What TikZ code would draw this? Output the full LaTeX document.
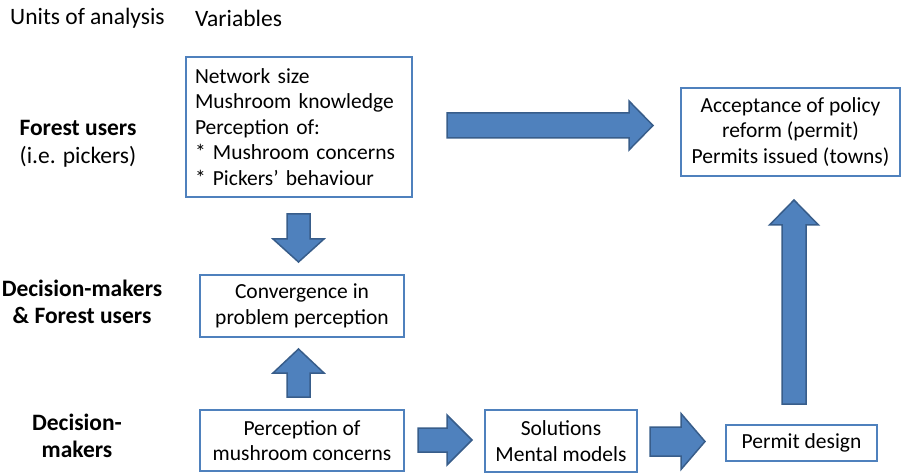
\documentclass[tikz,border=0pt]{standalone}
\usepackage{fontspec}
\setmainfont{Carlito}
\usetikzlibrary{calc}
\definecolor{boxblue}{RGB}{79,129,189}
\definecolor{arrowblue}{RGB}{79,129,189}
\definecolor{arrowedge}{RGB}{56,93,138}
\tikzset{
    varbox/.style 2 args={
        draw=boxblue,
        line width=2pt,
        minimum width=#1,
        minimum height=#2,
        inner sep=0pt,
        align=center
    },
    unitlabel/.style={
        inner sep=0pt,
        align=center,
        font=\fontsize{23.5}{27.5}\selectfont\bfseries
    },
    heading/.style={
        anchor=west,
        inner sep=0pt,
        font=\fontsize{23.5}{27.5}\selectfont
    },
    fatarrow/.style={
        fill=arrowblue,
        draw=arrowedge,
        line width=1.5pt,
        line join=miter
    }
}
% block arrow: tail, tip, half shaft, half head, head length
\newcommand{\fatarrow}[5]{%
    \coordinate (fa-b) at ($(#2)!#5!(#1)$);
    \filldraw[fatarrow]
        ($(#1)!#3!90:(#2)$) -- ($(fa-b)!#3!90:(#2)$) -- ($(fa-b)!#4!90:(#2)$)
        -- (#2)
        -- ($(fa-b)!#4!-90:(#2)$) -- ($(fa-b)!#3!-90:(#2)$) -- ($(#1)!#3!-90:(#2)$)
        -- cycle;
}

\begin{document}
\begin{tikzpicture}[x=1pt, y=-1pt, font=\fontsize{21.5}{25.5}\selectfont]
    \useasboundingbox (0,0) rectangle (903,473);

    % headings
    \node[heading] (units) at (10,18) {Units of analysis};
    \node[heading] (vartitle) at (195,18) {Variables};

    % units of analysis
    \node[unitlabel] (forest) at (78,144) {Forest users\\\mdseries(i.e. pickers)};
    \node[unitlabel] (both) at (82,302) {Decision-makers\\\& Forest users};
    \node[unitlabel] (dm) at (77,436) {Decision-\\makers};

    % boxes
    \node[varbox={226pt}{140pt}, text width=208pt, align=left] (vars) at (299,127)
        {Network size\\Mushroom knowledge\\Perception of:\\{}* Mushroom concerns\\{}* Pickers’ behaviour};
    \node[varbox={219pt}{88pt}] (accept) at (790.5,132)
        {Acceptance of policy\\reform (permit)\\Permits issued (towns)};
    \node[varbox={204pt}{62pt}] (conv) at (302,306) {Convergence in\\problem perception};
    \node[varbox={204pt}{61pt}] (percep) at (302,440.5) {Perception of\\mushroom concerns};
    \node[varbox={152pt}{62pt}] (sol) at (561,441) {Solutions\\Mental models};
    \node[varbox={151pt}{36pt}] (permit) at (801.5,443) {Permit design};

    % arrow ends
    \coordinate (a1t) at (447,125.5);  \coordinate (a1h) at (653,125.5);
    \coordinate (a2t) at (298.5,214);  \coordinate (a2h) at (298.5,262);
    \coordinate (a3t) at (298.5,397);  \coordinate (a3h) at (298.5,349);
    \coordinate (a4t) at (418,440);    \coordinate (a4h) at (472,440);
    \coordinate (a5t) at (650,441.5);  \coordinate (a5h) at (705,441.5);
    \coordinate (a6t) at (794,404);    \coordinate (a6h) at (794,200);

    % block arrows
    \fatarrow{a1t}{a1h}{12.5pt}{24.5pt}{24pt}
    \fatarrow{a2t}{a2h}{11.5pt}{25.5pt}{23pt}
    \fatarrow{a3t}{a3h}{11.5pt}{25.5pt}{24pt}
    \fatarrow{a4t}{a4h}{12pt}{25pt}{25pt}
    \fatarrow{a5t}{a5h}{14.5pt}{28pt}{24pt}
    \fatarrow{a6t}{a6h}{12pt}{24.5pt}{25pt}
\end{tikzpicture}
\end{document}
